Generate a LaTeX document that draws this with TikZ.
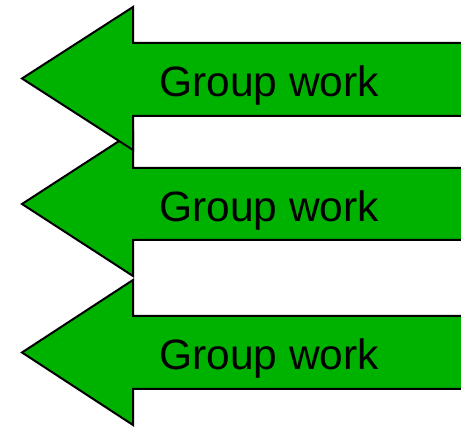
\documentclass[tikz,border=0pt]{standalone}
\usepackage{fontspec}
\setmainfont{Liberation Sans}
\definecolor{arrowgreen}{RGB}{0,178,0}
\tikzset{
  grparrow/.style={fill=arrowgreen, draw=black, line width=2pt, line join=miter},
  grplabel/.style={anchor=base west, inner sep=0pt, font=\fontsize{42.5}{50}\selectfont, text=black}
}
\newcommand{\grparrowpath}[5]{%
  \draw[grparrow] (22,-#5) -- (133,-#1) -- (133,-#2) -- (475,-#2) -- (475,-#3) -- (133,-#3) -- (133,-#4) -- cycle;}
\begin{document}
\begin{tikzpicture}[x=1pt,y=1pt]
  \useasboundingbox (0,0) rectangle (461,-427);
  \clip (0,0) rectangle (461,-427);
  \grparrowpath{280}{316}{389}{425}{352.5}
  \grparrowpath{132}{168}{240}{276}{204}
  \grparrowpath{7}{43}{116}{150}{78.5}
  \node[grplabel] (t1) at (159,-97) {Group work};
  \node[grplabel] (t2) at (159,-222) {Group work};
  \node[grplabel] (t3) at (159,-370) {Group work};
\end{tikzpicture}
\end{document}
